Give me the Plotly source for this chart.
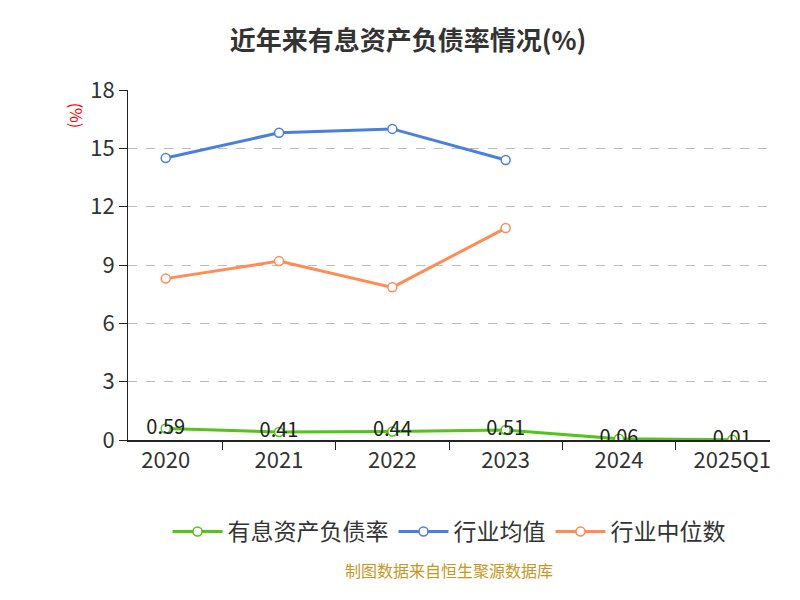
import plotly.graph_objects as go

years = ['2020', '2021', '2022', '2023', '2024', '2025Q1']
debt_ratio = [0.59, 0.41, 0.44, 0.51, 0.06, 0.01]
ind_avg = [14.5, 15.8, 16.0, 14.4]
ind_median = [8.3, 9.2, 7.85, 10.9]

fig = go.Figure()
fig.add_trace(go.Scatter(x=years, y=debt_ratio, name='有息资产负债率', mode='lines+markers+text',
                         text=[f'{v:.2f}' for v in debt_ratio], textposition='middle center',
                         textfont=dict(size=20, color='#222'),
                         line=dict(color='#52c41a', width=3),
                         marker=dict(size=9, color='white', line=dict(color='#52c41a', width=1.5))))
fig.add_trace(go.Scatter(x=years[:4], y=ind_avg, name='行业均值', mode='lines+markers',
                         line=dict(color='#4a7fdf', width=3),
                         marker=dict(size=9, color='white', line=dict(color='#4a7fdf', width=1.5))))
fig.add_trace(go.Scatter(x=years[:4], y=ind_median, name='行业中位数', mode='lines+markers',
                         line=dict(color='#ff8c55', width=3),
                         marker=dict(size=9, color='white', line=dict(color='#ff8c55', width=1.5))))

fig.update_layout(
    width=800, height=600, plot_bgcolor='white', paper_bgcolor='white',
    font=dict(family='Noto Sans CJK SC', size=20, color='#333'),
    title=dict(text='<b>近年来有息资产负债率情况(%)</b>', x=0.5, y=0.96, font=dict(size=26, color='#333')),
    margin=dict(l=120, r=38, t=82, b=168),
    legend=dict(orientation='h', x=0.5, xanchor='center', y=-0.2, font=dict(size=23),
                itemwidth=50),
    annotations=[
        dict(text='(%)', x=-0.1, y=0.97, xref='paper', yref='paper', showarrow=False,
             textangle=90, font=dict(size=16, color='red')),
        dict(text='制图数据来自恒生聚源数据库', x=0.5, y=-0.41, xref='paper', yref='paper',
             showarrow=False, font=dict(size=16, color='#c8961e')),
    ],
)
fig.update_xaxes(showline=True, linecolor='#222', linewidth=1.5, ticks='outside',
                 tickson='boundaries', ticklen=8, tickcolor='#222', tickfont=dict(size=22))
fig.update_yaxes(range=[0, 18], dtick=3, showline=True, linecolor='#222', linewidth=1,
                 ticks='outside', ticklen=8, tickcolor='#222', tickfont=dict(size=22),
                 showgrid=True, gridcolor='#bbb', griddash='dash', zeroline=False)

fig.write_html('out.html')
